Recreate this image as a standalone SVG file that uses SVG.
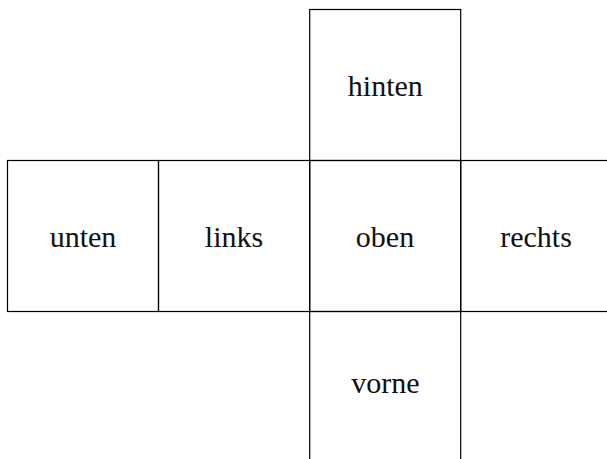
<svg xmlns="http://www.w3.org/2000/svg" width="607" height="459" viewBox="0 0 607 459">
<style>
.face{fill:none;stroke:#000;stroke-width:1.2}
.lbl{font-family:"Liberation Serif","Times New Roman",serif;font-size:30px;fill:#111;text-anchor:middle}
</style>
<rect width="607" height="459" fill="#fff"/>
<g id="hinten"><rect class="face" x="309.7" y="9.5" width="151" height="151"/><text class="lbl" x="385.3" y="96">hinten</text></g>
<g id="unten"><rect class="face" x="7.5" y="160.5" width="151" height="151"/><text class="lbl" x="83" y="247">unten</text></g>
<g id="links"><rect class="face" x="158.5" y="160.5" width="151.2" height="151"/><text class="lbl" x="234" y="247">links</text></g>
<g id="oben"><rect class="face" x="309.7" y="160.5" width="151" height="151"/><text class="lbl" x="385" y="247">oben</text></g>
<g id="rechts"><rect class="face" x="460.7" y="160.5" width="151" height="151"/><text class="lbl" x="536" y="247">rechts</text></g>
<g id="vorne"><rect class="face" x="309.7" y="311.5" width="151" height="151"/><text class="lbl" x="385.5" y="393">vorne</text></g>
<g id="connectors"></g>
</svg>
